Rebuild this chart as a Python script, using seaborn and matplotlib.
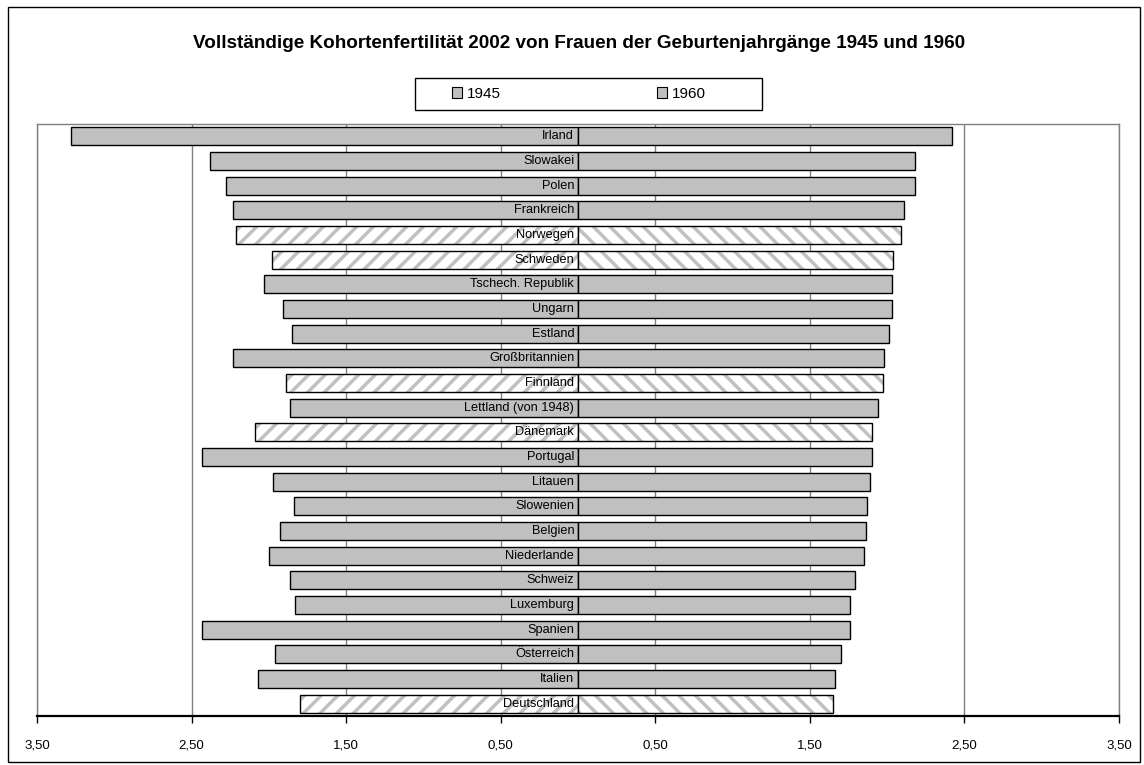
import numpy as np
import pandas as pd
import matplotlib
matplotlib.use("Agg")
import matplotlib.pyplot as plt
from matplotlib.patches import Patch, Rectangle
import seaborn as sns

# completed cohort fertility
countries = ["Irland", "Slowakei", "Polen", "Frankreich", "Norwegen", "Schweden",
             "Tschech. Republik", "Ungarn", "Estland", "Großbritannien", "Finnland",
             "Lettland (von 1948)", "Dänemark", "Portugal", "Litauen", "Slowenien",
             "Belgien", "Niederlande", "Schweiz", "Luxemburg", "Spanien",
             "Österreich", "Italien", "Deutschland"]
cohort_1945 = [3.28, 2.38, 2.28, 2.23, 2.21, 1.98, 2.03, 1.91, 1.85, 2.23, 1.89,
               1.86, 2.09, 2.43, 1.97, 1.84, 1.93, 2.00, 1.86, 1.83, 2.43,
               1.96, 2.07, 1.80]
cohort_1960 = [2.42, 2.18, 2.18, 2.11, 2.09, 2.04, 2.03, 2.03, 2.01, 1.98, 1.97,
               1.94, 1.90, 1.90, 1.89, 1.87, 1.86, 1.85, 1.79, 1.76, 1.76,
               1.70, 1.66, 1.65]
hatched = ["Norwegen", "Schweden", "Finnland", "Dänemark", "Deutschland"]
tick_pos = [-3.5, -2.5, -1.5, -0.5, 0.5, 1.5, 2.5, 3.5]
tick_labels = ["3,50", "2,50", "1,50", "0,50", "0,50", "1,50", "2,50", "3,50"]

df = pd.DataFrame({"land": countries,
                   "left": -np.array(cohort_1945),
                   "right": np.array(cohort_1960)})

sns.set_style("white")
plt.rcParams["font.family"] = ["Liberation Sans", "DejaVu Sans"]
plt.rcParams["text.color"] = "black"
plt.rcParams["xtick.color"] = "black"
plt.rcParams["hatch.linewidth"] = 2.5

BAR = "#C0C0C0"
fig = plt.figure(figsize=(11.44, 7.65), dpi=100)
ax = fig.add_axes([37 / 1144, 1 - 716 / 765, 1082 / 1144, 592 / 765])

for col in ["left", "right"]:
    sns.barplot(data=df, x=col, y="land", orient="h", color=BAR, saturation=1,
                edgecolor="black", linewidth=1, width=0.72, ax=ax, zorder=3)

n = len(countries)
for k, p in enumerate(ax.patches):
    name = countries[k % n]
    if name in hatched:
        p.set_facecolor("white")
        p.set_hatch("//" if k < n else "\\\\")
        if hasattr(p, "set_hatchcolor"):
            p.set_hatchcolor(BAR)
        else:
            p._hatch_color = matplotlib.colors.to_rgba(BAR)

for i, name in enumerate(countries):
    ax.text(-0.025, i, name, ha="right", va="center", fontsize=9.2, zorder=4)

ax.set_xlim(-3.5, 3.5)
ax.set_ylim(n - 0.5, -0.5)
ax.set_xticks(tick_pos)
ax.set_xticklabels(tick_labels, fontsize=9.5)
ax.set_yticks([])
ax.set_xlabel("")
ax.set_ylabel("")
ax.tick_params(axis="x", direction="out", length=5, width=1, pad=12,
               bottom=True, color="black")
ax.grid(True, axis="x", color="#808080", linewidth=1, zorder=0)
ax.set_axisbelow(True)
for side in ["left", "right", "top"]:
    ax.spines[side].set_color("#808080")
    ax.spines[side].set_linewidth(1)
ax.spines["bottom"].set_color("black")
ax.spines["bottom"].set_linewidth(1.6)

fig.text(579 / 1144, 1 - 44 / 765,
         "Vollständige Kohortenfertilität 2002 von Frauen der Geburtenjahrgänge 1945 und 1960",
         ha="center", va="center", fontsize=13.6, fontweight="bold")

handles = [Patch(facecolor=BAR, edgecolor="black", linewidth=0.8),
           Patch(facecolor=BAR, edgecolor="black", linewidth=0.8)]
fig.legend(handles, ["1945", "1960"], ncol=2, loc="center left",
           bbox_to_anchor=(444 / 1144, 1 - 94 / 765), frameon=False,
           fontsize=11, handlelength=0.7, handleheight=0.7, handletextpad=0.3,
           columnspacing=10.2, borderpad=0)
fig.add_artist(Rectangle((415 / 1144, 1 - 110 / 765), 347 / 1144, 32 / 765,
                         transform=fig.transFigure, fill=False,
                         edgecolor="black", linewidth=1))
fig.add_artist(Rectangle((8 / 1144, 3 / 765), 1132 / 1144, 755 / 765,
                         transform=fig.transFigure, fill=False,
                         edgecolor="black", linewidth=1))

fig.savefig("out.png", dpi=100)
